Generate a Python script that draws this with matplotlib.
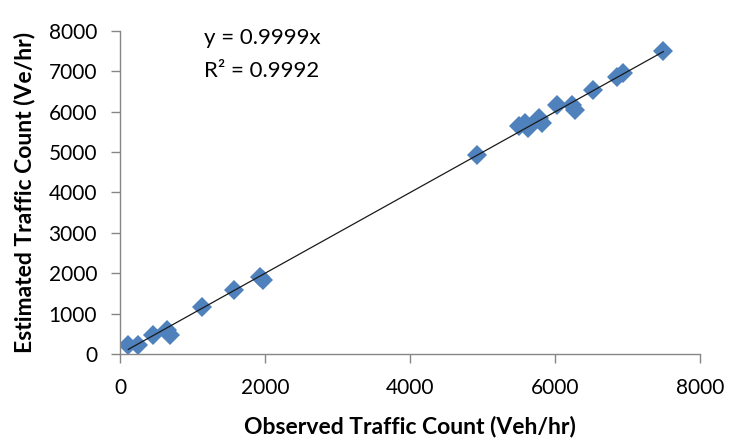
import matplotlib
matplotlib.use('Agg')
import matplotlib.pyplot as plt
import numpy as np

# observed vs estimated traffic counts (veh/hr)
observed = [114, 255, 459, 644, 689, 1126, 1572, 1930, 1975,
            4926, 5504, 5583, 5629, 5780, 5813, 6020, 6227, 6273,
            6516, 6847, 6938, 7490]
estimated = [223, 235, 470, 594, 470, 1157, 1585, 1915, 1833,
             4929, 5647, 5714, 5590, 5838, 5714, 6167, 6167, 6043,
             6539, 6868, 6952, 7512]

slope = 0.9999
r_squared = 0.9992
x_ticks = [0, 2000, 4000, 6000, 8000]
y_ticks = [0, 1000, 2000, 3000, 4000, 5000, 6000, 7000, 8000]

plt.rcParams['font.family'] = ['Lato', 'DejaVu Sans']

fig = plt.figure(figsize=(7.49, 4.46), dpi=100)
ax = fig.add_axes([0.1602, 0.2063, 0.7748, 0.7242])

# trendline through origin over the data range
obs = np.array(observed)
x_line = np.array([obs.min(), obs.max()])
ax.plot(x_line, slope * x_line, color='#1a1a1a', lw=0.9, zorder=3)

ax.plot(observed, estimated, linestyle='none', marker='D', markersize=10,
        color='#4F81BD', markeredgewidth=0, zorder=2)

ax.set_xlim(0, 8000)
ax.set_ylim(0, 8000)
ax.set_xticks(x_ticks)
ax.set_yticks(y_ticks)

for side in ['top', 'right']:
    ax.spines[side].set_visible(False)
for side in ['left', 'bottom']:
    ax.spines[side].set_color('#868686')
    ax.spines[side].set_linewidth(1.0)

ax.tick_params(axis='both', direction='out', length=6.5, width=1.0,
               color='#868686', labelsize=15, labelcolor='black')
ax.tick_params(axis='x', pad=11)
ax.tick_params(axis='y', pad=10)

ax.set_xlabel('Observed Traffic Count (Veh/hr)', fontsize=16.5, fontweight='bold', va='center')
ax.set_ylabel('Estimated Traffic Count (Ve/hr)', fontsize=16.5, fontweight='bold', va='center')
ax.xaxis.set_label_coords(0.5, -0.226)
ax.yaxis.set_label_coords(-0.165, 0.5)

ax.text(0.1453, 0.9588, f'y = {slope}x', transform=ax.transAxes,
        fontsize=16, va='baseline', ha='left')
ax.text(0.1453, 0.8585, f'R\u00b2 = {r_squared}', transform=ax.transAxes,
        fontsize=16, va='baseline', ha='left')

fig.savefig('out.png', dpi=100)
